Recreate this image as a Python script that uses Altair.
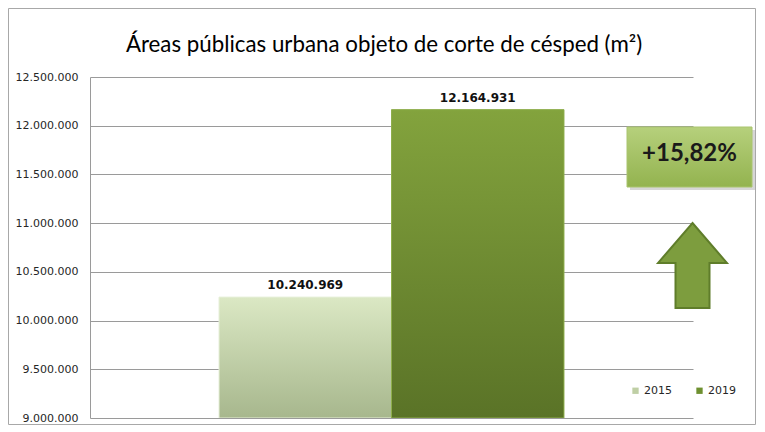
import altair as alt
import pandas as pd

years = ["2015", "2019"]
areas = [10240969, 12164931]
y_ticks = [9000000, 9500000, 10000000, 10500000, 11000000, 11500000, 12000000, 12500000]
title_text = "Áreas públicas urbana objeto de corte de césped (m²)"
change_text = "+15,82%"

W, H = 603, 341
PL, PT, PR, PB = 82, 69, 64, 8

df = pd.DataFrame({"year": years, "area": areas})

dot_fmt = "replace(replace(format({v}, ',.0f'), ',', '.'), ',', '.')"

x_enc = alt.X("year:N", axis=None,
              scale=alt.Scale(domain=years, paddingInner=0, paddingOuter=0.748))
y_enc = alt.Y("area:Q",
              scale=alt.Scale(domain=[9000000, 12500000], nice=False, zero=False),
              axis=alt.Axis(values=y_ticks, title=None, grid=True, gridColor="#9a9a9a",
                            gridWidth=1, domain=True, domainColor="#9a9a9a", ticks=False,
                            labelPadding=12, labelFont="DejaVu Sans", labelFontSize=11,
                            labelColor="#262626",
                            labelExpr=dot_fmt.format(v="datum.value")))
y2_enc = alt.datum(y_ticks[0])

grad15 = alt.Gradient(gradient="linear", x1=0, x2=0, y1=0, y2=1,
                      stops=[alt.GradientStop(offset=0, color="#dbe8c4"),
                             alt.GradientStop(offset=1, color="#a7b78d")])
grad19 = alt.Gradient(gradient="linear", x1=0, x2=0, y1=0, y2=1,
                      stops=[alt.GradientStop(offset=0, color="#83a33d"),
                             alt.GradientStop(offset=1, color="#5a7327")])
grad_box = alt.Gradient(gradient="linear", x1=0, x2=0, y1=0, y2=1,
                        stops=[alt.GradientStop(offset=0, color="#b6d07c"),
                               alt.GradientStop(offset=1, color="#93b34f")])

base = alt.Chart(df)

bars_solid = base.mark_bar(clip=True).encode(
    x=x_enc, y=y_enc, y2=y2_enc,
    color=alt.Color("year:N",
                    scale=alt.Scale(domain=years, range=["#bfcfa5", "#6e9030"]),
                    legend=alt.Legend(orient="none", legendX=540, legendY=308,
                                      direction="horizontal", title=None,
                                      symbolType="square", symbolSize=40,
                                      symbolStrokeWidth=0,
                                      labelFont="DejaVu Sans", labelFontSize=11,
                                      labelColor="#262626", columnPadding=22,
                                      labelOffset=3)),
)

bars_grad = base.mark_bar(clip=True).encode(
    x=x_enc, y=y_enc, y2=y2_enc,
    fill=alt.condition(alt.datum.year == "2015", alt.value(grad15), alt.value(grad19)),
    stroke=alt.condition(alt.datum.year == "2015", alt.value("#e6efd8"), alt.value("#8fae4c")),
    strokeWidth=alt.value(1),
)

bar_labels = base.transform_calculate(
    lbl=dot_fmt.format(v="datum.area")
).mark_text(baseline="bottom", dy=-5, font="DejaVu Sans", fontSize=12,
            fontWeight="bold", color="#111111").encode(
    x=x_enc, y=y_enc, text="lbl:N")

one = alt.Data(values=[{"t": 0}])

frame = alt.Chart(one).mark_rect(fill="transparent", stroke="#a8a8a8", strokeWidth=1).encode(
    x=alt.value(-PL + 0.5), x2=alt.value(W + PR - 1.5),
    y=alt.value(-PT + 0.5), y2=alt.value(H + PB - 1.5))

title = alt.Chart(one).mark_text(text=title_text, font="Lato",
                                 fontSize=22.3, color="#000000", baseline="middle",
                                 align="center").encode(
    x=alt.value(294), y=alt.value(-32))

box_shadow = alt.Chart(one).mark_rect(fill="#8a8a8a", opacity=0.35).encode(
    x=alt.value(540), x2=alt.value(665), y=alt.value(53), y2=alt.value(113))
box = alt.Chart(one).mark_rect(fill=grad_box, stroke="#a9c46e", strokeWidth=1).encode(
    x=alt.value(537), x2=alt.value(662), y=alt.value(50), y2=alt.value(110))
box_text = alt.Chart(one).mark_text(text=change_text, font="Lato",
                                    fontSize=24, fontWeight="bold", color="#1a1a1a",
                                    baseline="middle", align="center").encode(
    x=alt.value(599.5), y=alt.value(77))

arrow_path = "M0,-1 L0.81,-0.06 L0.4,-0.06 L0.4,1 L-0.4,1 L-0.4,-0.06 L-0.81,-0.06 Z"
arrow = alt.Chart(one).mark_point(shape=arrow_path, filled=True, fill="#7d9d3e",
                                  stroke="#5f7d2a", strokeWidth=2, opacity=1,
                                  size=7225).encode(
    x=alt.value(602.5), y=alt.value(188.5))

chart = alt.layer(
    frame, bars_solid, bars_grad, bar_labels, title, box_shadow, box, box_text, arrow
).properties(
    width=W, height=H,
    autosize=alt.AutoSizeParams(type="none"),
    padding={"left": PL, "top": PT, "right": PR, "bottom": PB},
    background="white",
).configure_view(stroke=None)

chart.save("out.html", embed_options={"renderer": "svg", "actions": False})
